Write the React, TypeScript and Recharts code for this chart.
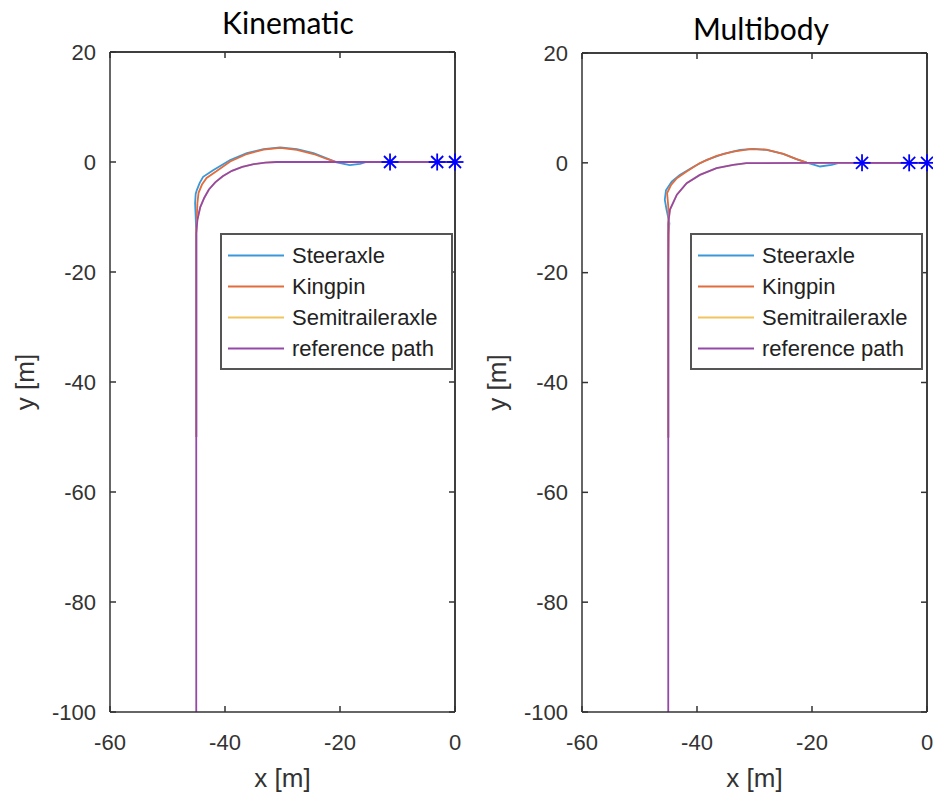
import React from 'react';
import { ComposedChart, Line, Scatter, XAxis, YAxis, Legend, ReferenceLine } from 'recharts';

const xTicks = [-60, -40, -20, 0];
const yTicks = [20, 0, -20, -40, -60, -80, -100];
const xDomain: [number, number] = [-60, 0];
const yDomain: [number, number] = [-100, 20];

const seriesNames = ['Steeraxle', 'Kingpin', 'Semitraileraxle', 'reference path'];
const seriesColors = ['#3a98d8', '#e36c3c', '#f2c45e', '#9448aa'];

// Kinematic model trajectories [x, y]
const kinSteer: number[][] = [
  [-45, -50], [-45, -20], [-45, -13], [-45.1, -10], [-45.2, -7.5], [-45.1, -5.8], [-44.9, -5.1],
  [-44.4, -3.8], [-43.8, -2.7], [-42.0, -1.45], [-39.1, 0.36], [-36.2, 1.6], [-33.3, 2.36],
  [-30.4, 2.67], [-27.5, 2.36], [-24.6, 1.6], [-22.3, 0.67], [-20.6, -0.06], [-18.3, -0.55],
  [-16.5, -0.36], [-15.4, 0], [0, 0],
];
const kinKingpin: number[][] = [
  [-45, -50], [-45, -20], [-45, -13], [-44.9, -10], [-44.8, -7.5], [-44.6, -5.6], [-44.0, -4.1],
  [-43.2, -2.9], [-41.5, -1.7], [-39.1, 0.1], [-36.2, 1.45], [-33.3, 2.24], [-30.4, 2.55],
  [-27.5, 2.2], [-24.6, 1.45], [-22.3, 0.55], [-20.6, 0], [-3.1, 0],
];
const kinSemitrailer: number[][] = [
  [-45, -50], [-45, -20], [-45, -13], [-44.8, -10.5], [-44.3, -8.2], [-43.6, -6.5], [-42.8, -5],
  [-41.7, -3.7], [-40.4, -2.6], [-38.8, -1.6], [-37, -0.9], [-35, -0.4], [-33, -0.1], [-31, 0],
  [-11.3, 0],
];
const kinReference: number[][] = [
  [-45, -100], [-45, -50], [-45, -20], [-45, -13], [-44.8, -10.5], [-44.3, -8.2], [-43.6, -6.5],
  [-42.8, -5], [-41.7, -3.7], [-40.4, -2.6], [-38.8, -1.6], [-37, -0.9], [-35, -0.4], [-33, -0.1],
  [-31, 0], [-20, 0], [0, 0],
];
const kinMarkers: number[][] = [[-11.3, 0], [-3.1, 0], [0, 0]];

// Multibody model trajectories [x, y]
const mbSteer: number[][] = [
  [-45, -50], [-45, -20], [-45, -13], [-44.8, -11], [-45.3, -8.5], [-45.6, -6.7], [-45.4, -5],
  [-44.4, -3.4], [-43.0, -2.2], [-40.6, -0.7], [-38.3, 0.55], [-35.4, 1.64], [-32.5, 2.36],
  [-30.2, 2.55], [-27.9, 2.36], [-25, 1.64], [-22.7, 0.67], [-20.9, 0.05], [-18.6, -0.67],
  [-16.6, -0.36], [-15.3, 0], [0, 0],
];
const mbKingpin: number[][] = [
  [-45, -50], [-45, -20], [-44.9, -12], [-45.0, -7.9], [-45.2, -5.5], [-44.5, -4], [-43.5, -2.8],
  [-41.8, -1.6], [-39.5, -0.05], [-36.6, 1.27], [-33.7, 2.05], [-30.8, 2.5], [-27.9, 2.4],
  [-25, 1.64], [-22.7, 0.67], [-20.9, 0.05], [-3.1, 0],
];
const mbSemitrailer: number[][] = [
  [-45, -50], [-45, -20], [-45, -13], [-45.0, -11], [-44.7, -8.5], [-43.5, -5.8], [-41.8, -3.7],
  [-39.5, -2.2], [-36.6, -0.97], [-33.7, -0.36], [-31.4, -0.05], [-11.3, 0],
];
const mbReference: number[][] = [
  [-45, -100], [-45, -50], [-45, -20], [-45, -13], [-45.0, -11], [-44.7, -8.5], [-43.5, -5.8],
  [-41.8, -3.7], [-39.5, -2.2], [-36.6, -0.97], [-33.7, -0.36], [-31.4, -0.05], [-20, 0], [0, 0],
];
const mbMarkers: number[][] = [[-11.3, 0], [-3.1, 0], [0, 0]];

const toPts = (arr: number[][]) => arr.map(([x, y]) => ({ x, y }));

const axisColor = '#333333';
const tickStyle = { fontSize: 22, fill: '#333333', fontFamily: 'Liberation Sans, Arial, sans-serif' };
const labelStyle = { fontSize: 26, fill: '#333333', fontFamily: 'Liberation Sans, Arial, sans-serif' };
const blank = () => '';

const Asterisk = (props: any) => {
  const { cx, cy } = props;
  if (cx == null || cy == null) return null;
  const r = 8.5;
  const d = r * 0.7071;
  return (
    <g stroke="#0000ff" strokeWidth={1.8}>
      <line x1={cx - r} y1={cy} x2={cx + r} y2={cy} />
      <line x1={cx} y1={cy - r} x2={cx} y2={cy + r} />
      <line x1={cx - d} y1={cy - d} x2={cx + d} y2={cy + d} />
      <line x1={cx - d} y1={cy + d} x2={cx + d} y2={cy - d} />
    </g>
  );
};

const LegendBox = (props: any) => {
  const items = (props.payload || [])
    .filter((p: any) => p.type !== 'none' && seriesNames.indexOf(p.value) >= 0)
    .slice()
    .sort((a: any, b: any) => seriesNames.indexOf(a.value) - seriesNames.indexOf(b.value));
  return (
    <div
      style={{
        border: '2px solid #555',
        background: '#fff',
        padding: '5px 0 4px 0',
        boxSizing: 'border-box',
        width: 233,
        fontFamily: 'Liberation Sans, Arial, sans-serif',
        fontSize: 22,
        color: '#222',
      }}
    >
      {items.map((it: any) => (
        <div key={it.value} style={{ display: 'flex', alignItems: 'center', height: 31 }}>
          <svg width={70} height={31} style={{ flex: 'none' }}>
            <line x1={6} y1={15.5} x2={62} y2={15.5} stroke={it.color} strokeWidth={2.2} />
          </svg>
          <span style={{ whiteSpace: 'nowrap', lineHeight: '31px' }}>{it.value}</span>
        </div>
      ))}
    </div>
  );
};

type PanelProps = {
  title: string;
  titleX: number;
  titleY: number;
  left: number;
  width: number;
  marginTop: number;
  marginRight: number;
  yAxisWidth: number;
  yLabelOffset: number;
  legendLeft: number;
  series: number[][][];
  markers: number[][];
};

const Panel = (p: PanelProps) => (
  <div style={{ position: 'absolute', left: p.left, top: 0, width: p.width, height: 796 }}>
    <ComposedChart
      width={p.width}
      height={796}
      margin={{ top: p.marginTop - 1, right: p.marginRight - 1, bottom: 0, left: 0 }}
    >
      <XAxis
        xAxisId="b"
        type="number"
        dataKey="x"
        orientation="bottom"
        domain={xDomain}
        ticks={xTicks}
        height={84}
        tickSize={-6}
        tickMargin={28}
        tick={tickStyle}
        stroke={axisColor}
        strokeWidth={1.5}
        label={{ value: 'x [m]', position: 'insideBottom', offset: 9, ...labelStyle }}
      />
      <XAxis
        xAxisId="t"
        type="number"
        dataKey="x"
        orientation="top"
        domain={xDomain}
        ticks={xTicks}
        height={1}
        tickSize={-6}
        tickFormatter={blank}
        stroke={axisColor}
        strokeWidth={1.5}
      />
      <YAxis
        yAxisId="l"
        type="number"
        dataKey="y"
        orientation="left"
        domain={yDomain}
        ticks={yTicks}
        width={p.yAxisWidth}
        tickSize={-6}
        tickMargin={20}
        tick={tickStyle}
        stroke={axisColor}
        strokeWidth={1.5}
        label={{
          value: 'y [m]',
          angle: -90,
          position: 'insideLeft',
          offset: p.yLabelOffset,
          textAnchor: 'middle',
          ...labelStyle,
        }}
      />
      <YAxis
        yAxisId="r"
        type="number"
        dataKey="y"
        orientation="right"
        domain={yDomain}
        ticks={yTicks}
        width={1}
        tickSize={-6}
        tickFormatter={blank}
        stroke={axisColor}
        strokeWidth={1.5}
      />
      {/* box edges at the domain limits */}
      <ReferenceLine xAxisId="b" yAxisId="l" y={yDomain[1]} stroke={axisColor} strokeWidth={1.5} />
      <ReferenceLine xAxisId="b" yAxisId="l" x={xDomain[1]} stroke={axisColor} strokeWidth={1.5} />
      {/* invisible series binding the box axes (top / right) */}
      <Line
        xAxisId="t"
        yAxisId="r"
        data={toPts(p.series[3])}
        dataKey="y"
        name="box"
        stroke="none"
        legendType="none"
        dot={false}
        activeDot={false}
        isAnimationActive={false}
      />
      {p.series.map((s, i) => (
        <Line
          key={seriesNames[i]}
          xAxisId="b"
          yAxisId="l"
          data={toPts(s)}
          dataKey="y"
          name={seriesNames[i]}
          type="linear"
          stroke={seriesColors[i]}
          strokeWidth={1.8}
          dot={false}
          activeDot={false}
          isAnimationActive={false}
        />
      ))}
      <Scatter
        xAxisId="b"
        yAxisId="l"
        data={toPts(p.markers)}
        dataKey="y"
        legendType="none"
        shape={<Asterisk />}
        isAnimationActive={false}
      />
      <Legend
        layout="vertical"
        align="center"
        verticalAlign="middle"
        wrapperStyle={{ left: p.legendLeft, top: 233, width: 233 }}
        content={<LegendBox />}
      />
    </ComposedChart>
    <svg
      width={p.width}
      height={50}
      style={{ position: 'absolute', left: 0, top: 0, pointerEvents: 'none' }}
    >
      <text
        x={p.titleX}
        y={p.titleY}
        textAnchor="middle"
        fontSize={30}
        fill="#000"
        fontFamily='Lato, "Open Sans", sans-serif'
      >
        {p.title}
      </text>
    </svg>
  </div>
);

export default function App() {
  return (
    <div
      style={{
        position: 'absolute',
        left: 0,
        top: 0,
        width: 933,
        height: 796,
        overflow: 'hidden',
        background: '#fff',
        fontFamily: 'Liberation Sans, Arial, sans-serif',
      }}
    >
      <Panel
        title="Kinematic"
        titleX={288}
        titleY={34}
        left={0}
        width={466}
        marginTop={52}
        marginRight={11}
        yAxisWidth={110}
        yLabelOffset={25}
        legendLeft={220}
        series={[kinSteer, kinKingpin, kinSemitrailer, kinReference]}
        markers={kinMarkers}
      />
      <Panel
        title="Multibody"
        titleX={295}
        titleY={40}
        left={466}
        width={480}
        marginTop={53}
        marginRight={19}
        yAxisWidth={116}
        yLabelOffset={31}
        legendLeft={224}
        series={[mbSteer, mbKingpin, mbSemitrailer, mbReference]}
        markers={mbMarkers}
      />
    </div>
  );
}
